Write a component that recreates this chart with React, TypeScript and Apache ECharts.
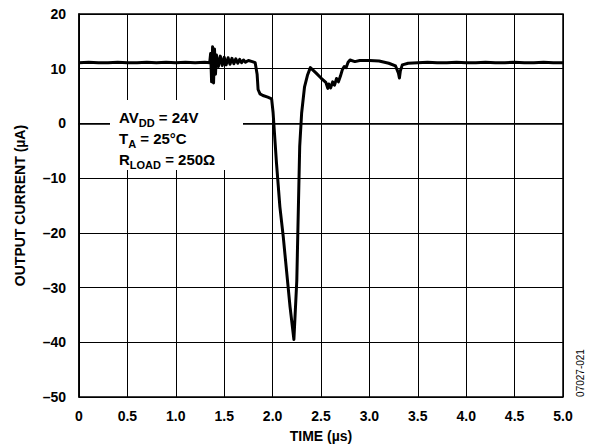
import React, { useEffect, useRef } from "react";
import * as echarts from "echarts";

const timeUs = [
  0.0, 0.1, 0.2, 0.3, 0.4, 0.5, 0.6, 0.7, 0.8, 0.9, 1.0, 1.1, 1.2, 1.3, 1.35,
  1.36, 1.37, 1.38, 1.39, 1.4, 1.41, 1.42, 1.44, 1.46, 1.48, 1.5, 1.52, 1.54,
  1.56, 1.58, 1.6, 1.62, 1.64, 1.66, 1.68, 1.7, 1.72, 1.75, 1.79, 1.82, 1.84,
  1.85, 1.87, 1.9, 1.95, 1.99, 2.005, 2.04, 2.075, 2.11, 2.18, 2.22, 2.25,
  2.265, 2.28, 2.3, 2.33, 2.36, 2.39, 2.45, 2.5, 2.55, 2.57, 2.58, 2.6, 2.62,
  2.64, 2.66, 2.68, 2.7, 2.72, 2.74, 2.76, 2.78, 2.8, 2.85, 2.9, 3.0, 3.1,
  3.2, 3.27, 3.3, 3.31, 3.32, 3.34, 3.4, 3.5, 3.6, 3.7, 3.8, 3.9, 4.0, 4.1,
  4.2, 4.3, 4.4, 4.5, 4.6, 4.7, 4.8, 4.9, 5.0,
];

const currentUA = [
  11.1, 11.2, 11.1, 11.1, 11.2, 11.1, 11.1, 11.2, 11.1, 11.2, 11.1, 11.2, 11.1,
  11.2, 11.1, 12.8, 7.6, 14.0, 7.4, 13.6, 9.0, 12.5, 10.4, 12.3, 10.6, 12.1,
  10.7, 12.0, 10.8, 11.9, 10.9, 11.8, 11.0, 11.7, 11.1, 11.6, 11.2, 11.5, 11.3,
  11.1, 9.0, 6.2, 5.4, 5.1, 4.8, 4.5, 2.0, -7.2, -15.2, -20.7, -33.5, -39.5,
  -28.7, -16.4, -4.2, 1.9, 6.7, 8.8, 10.2, 9.2, 8.3, 7.5, 6.4, 7.2, 6.5, 7.6,
  7.0, 8.2, 7.6, 8.6, 9.8, 10.4, 10.2, 11.2, 11.6, 11.3, 11.5, 11.5, 11.4,
  11.0, 10.5, 9.2, 8.3, 9.6, 10.7, 11.0, 11.1, 11.2, 11.1, 11.1, 11.2, 11.1,
  11.1, 11.2, 11.1, 11.1, 11.2, 11.1, 11.1, 11.2, 11.1, 11.1,
];

const xTicks = ["0", "0.5", "1.0", "1.5", "2.0", "2.5", "3.0", "3.5", "4.0", "4.5", "5.0"];
const yMin = -50;
const yMax = 20;

const FONT = "'Liberation Sans', Arial, Helvetica, sans-serif";

export default function App() {
  const ref = useRef<HTMLDivElement>(null);

  useEffect(() => {
    if (!ref.current) return;
    const chart = echarts.init(ref.current, undefined, { renderer: "svg" });
    const data = timeUs.map((t, i) => [t, currentUA[i]]);
    chart.setOption({
      animation: false,
      backgroundColor: "#fff",
      grid: {
        left: 79,
        right: 32,
        top: 14,
        bottom: 51,
        show: true,
        borderColor: "#000",
        borderWidth: 1.5,
        containLabel: false,
      },
      xAxis: {
        type: "value",
        min: 0,
        max: 5,
        interval: 0.5,
        name: "TIME (µs)",
        nameLocation: "middle",
        nameGap: 32,
        nameTextStyle: { fontFamily: FONT, fontWeight: "bold", fontSize: 14, color: "#000" },
        axisLine: { show: true, lineStyle: { color: "#000", width: 1.5 } },
        axisTick: { show: false },
        axisLabel: {
          fontFamily: FONT,
          fontWeight: "bold",
          fontSize: 14,
          color: "#000",
          margin: 12,
          formatter: (v: number) => xTicks[Math.round(v / 0.5)] ?? "",
        },
        splitLine: { show: true, lineStyle: { color: "#000", width: 1 } },
      },
      yAxis: {
        type: "value",
        min: yMin,
        max: yMax,
        interval: 10,
        name: "OUTPUT CURRENT (µA)",
        nameLocation: "middle",
        nameGap: 52,
        nameTextStyle: { fontFamily: FONT, fontWeight: "bold", fontSize: 14, color: "#000" },
        axisLine: { show: true, lineStyle: { color: "#000", width: 1.5 } },
        axisTick: { show: false },
        axisLabel: {
          fontFamily: FONT,
          fontWeight: "bold",
          fontSize: 14,
          color: "#000",
          margin: 13,
          formatter: (v: number) => String(v).replace("-", "\u2013"),
        },
        splitLine: { show: true, lineStyle: { color: "#000", width: 1 } },
      },
      graphic: [
        {
          type: "rect",
          z: 100,
          shape: { x: 110, y: 100, width: 133, height: 70 },
          style: { fill: "#fff" },
        },
        {
          type: "text",
          z: 101,
          x: 119,
          y: 104,
          style: {
            text:
              "{b|AV}{s|DD}{b| = 24V}\n{b|T}{s|A}{b| = 25°C}\n{b|R}{s|LOAD}{b| = 250Ω}",
            fill: "#000",
            rich: {
              b: {
                fontFamily: FONT,
                fontWeight: "bold",
                fontSize: 15,
                lineHeight: 21,
                verticalAlign: "bottom",
                fill: "#000",
              },
              s: {
                fontFamily: FONT,
                fontWeight: "bold",
                fontSize: 11,
                lineHeight: 12,
                verticalAlign: "bottom",
                padding: [0, 0, -3, 0],
                fill: "#000",
              },
            },
          },
        },
        {
          type: "text",
          z: 101,
          x: 580,
          y: 373,
          rotation: Math.PI / 2,
          style: {
            text: "07027-021",
            fontFamily: FONT,
            fontSize: 10,
            fill: "#000",
            align: "center",
            verticalAlign: "middle",
          },
        },
      ],
      series: [
        {
          type: "line",
          data,
          showSymbol: false,
          symbol: "none",
          lineStyle: { color: "#000", width: 3, join: "round" },
          z: 5,
        },
      ],
    });
    return () => chart.dispose();
  }, []);

  return (
    <div
      ref={ref}
      style={{ position: "fixed", left: 0, top: 0, width: 595, height: 448 }}
    />
  );
}
